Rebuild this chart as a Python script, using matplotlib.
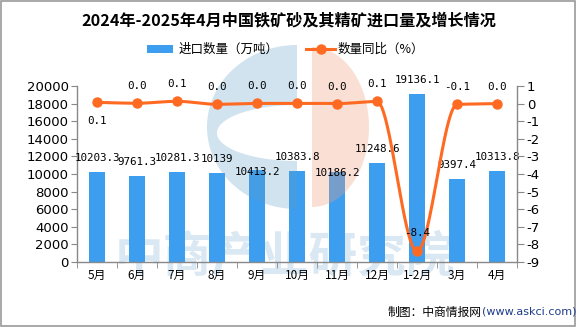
import numpy as np
import matplotlib
matplotlib.use("Agg")
import matplotlib.pyplot as plt
import matplotlib.transforms as mtransforms
from matplotlib.patches import Rectangle, Polygon
from matplotlib.lines import Line2D

plt.rcParams['font.family'] = ['Noto Sans CJK SC', 'DejaVu Sans']
plt.rcParams['axes.unicode_minus'] = False

# ---- data ----
months = ["5月", "6月", "7月", "8月", "9月", "10月", "11月", "12月", "1-2月", "3月", "4月"]
imports = [10203.3, 9761.3, 10281.3, 10139, 10413.2, 10383.8, 10186.2, 11248.6, 19136.1, 9397.4, 10313.8]
yoy = [0.07, 0.02, 0.13, -0.04, 0.01, 0.01, 0.0, 0.12, -8.4, -0.05, 0.0]

BAR_C = "#3d9ef0"
LINE_C = "#ff6a22"
AX_C = "#888888"

W, H = 576, 327
fig = plt.figure(figsize=(W / 100, H / 100), dpi=100, facecolor="white")

# pixel transform (origin top-left) for decorations
px = mtransforms.Affine2D().scale(1 / W, -1 / H).translate(0, 1) + fig.transFigure

# faint brand text behind the plot
fig.text(285, 258, "中商产业研究院", transform=px, fontsize=35, fontweight="bold",
         color="#dae8f3", ha="center", va="center", zorder=-5)

L, R, T, B = 77, 517, 86, 262
ax = fig.add_axes([L / W, 1 - B / H, (R - L) / W, (B - T) / H])
ax.set_facecolor("none")
ax2 = ax.twinx()

x = np.arange(len(months))
ax.bar(x, imports, width=0.4, color=BAR_C, zorder=2)
ax.set_xlim(-0.5, len(months) - 0.5)
ax.set_ylim(0, 20000)
ax.set_yticks(np.arange(0, 20001, 2000))

# logo watermark drawn over the bars
t = np.linspace(np.pi / 2, 3 * np.pi / 2, 200)
outer = np.column_stack([297 + 90 * np.cos(t), 127 + 82 * np.sin(t)])
inner = np.column_stack([297 + 80 * np.cos(t[::-1]), 133 + 28 * np.sin(t[::-1])])
blue_shape = np.vstack([outer, [[297, 209]], [[297, 161]], inner, [[297, 105]], [[297, 45]]])
ax.add_patch(Polygon(blue_shape, closed=True, transform=px, facecolor="#5b9bc8",
                     edgecolor="none", alpha=0.28, zorder=3, clip_on=False))
t2 = np.linspace(-np.pi / 2, np.pi / 2, 200)
orange = np.column_stack([312 + 57 * np.cos(t2), 127 + 80 * np.sin(t2)])
ax.add_patch(Polygon(orange, closed=True, transform=px, facecolor="#f0a080",
                     edgecolor="none", alpha=0.33, zorder=3, clip_on=False))

# bar value labels
bar_off = [14, 14, 14, 14, -2, 14, -1, 14, 14, 14, 14]
for xi, v, o in zip(x, imports, bar_off):
    s = f"{v:g}"
    ax.annotate(s, (xi, v), xytext=(0, o), textcoords="offset pixels",
                ha="center", va="center", fontsize=7.8, family="DejaVu Sans Mono",
                color="black", zorder=6, annotation_clip=False)


# monotone cubic (Fritsch-Carlson) for the smoothed line
def monotone(xk, yk, xs):
    xk = np.asarray(xk, float)
    yk = np.asarray(yk, float)
    h = np.diff(xk)
    d = np.diff(yk) / h
    n = len(xk)
    m = np.zeros(n)
    m[0], m[-1] = d[0], d[-1]
    for k in range(1, n - 1):
        if d[k - 1] * d[k] <= 0:
            m[k] = 0
        else:
            w1 = 2 * h[k] + h[k - 1]
            w2 = h[k] + 2 * h[k - 1]
            m[k] = (w1 + w2) / (w1 / d[k - 1] + w2 / d[k])
    idx = np.clip(np.searchsorted(xk, xs) - 1, 0, n - 2)
    hh = h[idx]
    tt = (xs - xk[idx]) / hh
    h00 = 2 * tt**3 - 3 * tt**2 + 1
    h10 = tt**3 - 2 * tt**2 + tt
    h01 = -2 * tt**3 + 3 * tt**2
    h11 = tt**3 - tt**2
    return h00 * yk[idx] + h10 * hh * m[idx] + h01 * yk[idx + 1] + h11 * hh * m[idx + 1]


xs = np.linspace(0, len(months) - 1, 600)
ax2.plot(xs, monotone(x, yoy, xs), color=LINE_C, lw=2.2, zorder=4, solid_capstyle="round")
ax2.plot(x, yoy, "o", color=LINE_C, ms=6.5, zorder=5)
ax2.set_ylim(-9, 1)
ax2.set_yticks(np.arange(-9, 2, 1))

line_off = [-19, 17, 17, 17, 17, 17, 17, 17, 18, 17, 17]
for xi, v, o in zip(x, yoy, line_off):
    ax2.annotate(f"{round(v, 1) + 0.0:.1f}", (xi, v), xytext=(0, o), textcoords="offset pixels",
                 ha="center", va="center", fontsize=7.8, family="DejaVu Sans Mono",
                 color="black", zorder=6, annotation_clip=False)

# axes styling
for a in (ax, ax2):
    a.spines["top"].set_visible(False)
    for s in ("left", "right", "bottom"):
        a.spines[s].set_color(AX_C)
        a.spines[s].set_linewidth(1.0)
ax.spines["right"].set_visible(False)
ax2.spines["left"].set_visible(False)
ax2.spines["bottom"].set_visible(False)

ax.set_xticks(x)
ax.set_xticklabels(months, fontsize=8.5)
ax.set_xticks(np.arange(-0.5, len(months), 1), minor=True)
ax.tick_params(axis="x", which="major", length=0, pad=5, colors="black")
ax.tick_params(axis="x", which="minor", length=4, color=AX_C)
ax.tick_params(axis="y", length=4, color=AX_C, labelsize=9.5, pad=2, labelcolor="black")
for lab in ax.get_yticklabels():
    lab.set_family("DejaVu Sans")
ax2.tick_params(axis="y", length=5, color=AX_C, labelsize=9.5, pad=2, labelcolor="black")
for lab in ax2.get_yticklabels():
    lab.set_family("DejaVu Sans")

# title
fig.text(289, 20, "2024年-2025年4月中国铁矿砂及其精矿进口量及增长情况", transform=px,
         fontsize=11.6, fontweight="bold", ha="center", va="center")

# legend
fig.add_artist(Rectangle((147, 45), 26, 8, transform=px, facecolor=BAR_C, edgecolor="none"))
fig.text(179, 49, "进口数量（万吨）", transform=px, fontsize=9, ha="left", va="center")
fig.add_artist(Line2D([306, 335], [49, 49], transform=px, color=LINE_C, lw=2.2))
fig.add_artist(Line2D([320.5], [49], transform=px, marker="o", ms=6.5, color=LINE_C))
fig.text(338, 49, "数量同比（%）", transform=px, fontsize=9, ha="left", va="center")

# source note
fig.text(482, 312, "制图：中商情报网", transform=px, fontsize=8.5, ha="right", va="center")
fig.text(482, 312, "(www.askci.com)", transform=px, fontsize=8, ha="left", va="center",
         family="DejaVu Sans", color="#1f3c8a")

# frame
fig.add_artist(Rectangle((0.5, 0.5), W - 2, H - 2, transform=px, facecolor="none",
                         edgecolor="#999999", lw=1.2))

fig.savefig("out.png", dpi=100, facecolor="white")
